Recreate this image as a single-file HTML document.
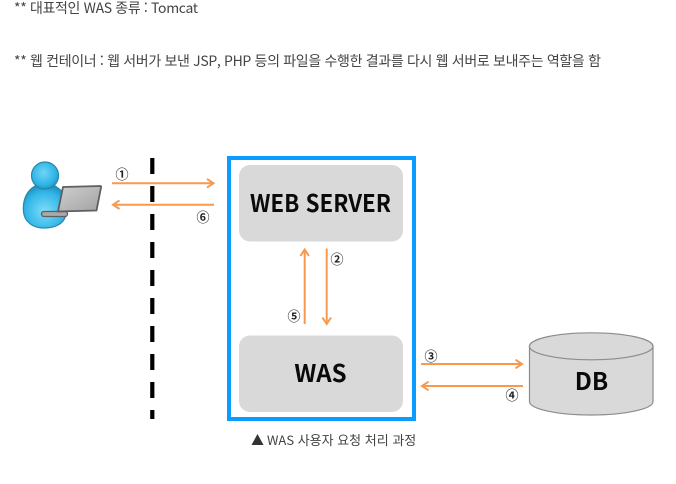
<!DOCTYPE html>
<html lang="ko">
<head>
<meta charset="utf-8">
<style>
html,body{margin:0;padding:0;background:#fff}
body{width:676px;height:484px;overflow:hidden;position:relative}
svg{position:absolute;left:0;top:0}
.soft{filter:blur(0.35px)}
</style>
</head>
<body>
<svg width="676" height="484" viewBox="0 0 676 484" xmlns="http://www.w3.org/2000/svg">
<defs>
<radialGradient id="h" cx="45%" cy="40%" r="65%"><stop offset="0" stop-color="#6fd6f5"/><stop offset="0.7" stop-color="#2db4e6"/><stop offset="1" stop-color="#1a8fbe"/></radialGradient>
<radialGradient id="b" cx="50%" cy="60%" r="65%"><stop offset="0" stop-color="#7fdcf7"/><stop offset="0.7" stop-color="#30b6e8"/><stop offset="1" stop-color="#1b8db9"/></radialGradient>
<linearGradient id="s" x1="0" y1="0" x2="1" y2="1"><stop offset="0" stop-color="#cfcfcf"/><stop offset="1" stop-color="#a2a2a2"/></linearGradient>
</defs>

<g font-family="'Noto Sans CJK KR',sans-serif" font-size="14" fill="#444">
<text x="14" y="13" letter-spacing="-0.35">** 대표적인 WAS 종류 : Tomcat</text>
<text x="14" y="66" letter-spacing="-0.33">** 웹 컨테이너 : 웹 서버가 보낸 JSP, PHP 등의 파일을 수행한 결과를 다시 웹 서버로 보내주는 역할을 함</text>
</g>

<g class="soft">
<!-- user -->
<path d="M35 186C26 191 22.500 201 23.500 212C24.500 222 33 228 44 228C56 228 66 223 66 212L66 197C63 191 58 188 55 186C48 190 41 190 35 186Z" fill="url(#b)" stroke="#2a87a8" stroke-width="1.200"/>
<circle cx="45" cy="175.500" r="13.500" fill="url(#h)" stroke="#2a87a8" stroke-width="1.200"/>
<rect x="41.500" y="211.500" width="26" height="5" rx="2.500" fill="#a9a9a9" stroke="#5f5f5f" stroke-width="1.300"/>
<path d="M63 187L100.500 186C101 186 101.300 186.500 101 187.500L96.500 210.500L58 211.500Z" fill="url(#s)" stroke="#5f5f5f" stroke-width="1.800" stroke-linejoin="round"/>

<!-- dashed divider -->
<line x1="152.300" y1="158" x2="152.300" y2="419" stroke="#000" stroke-width="4.200" stroke-dasharray="16 12"/>

<!-- frame -->
<rect x="229" y="158" width="185" height="261" fill="none" stroke="#0a9cff" stroke-width="4"/>
<rect x="239" y="165" width="164" height="76.500" rx="11" fill="#d9d9d9"/>
<rect x="239" y="335.500" width="164" height="76.500" rx="11" fill="#d9d9d9"/>
<text x="250" y="212" textLength="141" lengthAdjust="spacingAndGlyphs" font-family="'Noto Sans CJK KR',sans-serif" font-weight="700" font-size="24" fill="#0a0a0a">WEB SERVER</text>
<text x="320.500" y="382" text-anchor="middle" font-family="'Noto Sans CJK KR',sans-serif" font-weight="700" font-size="24" fill="#0a0a0a">WAS</text>

<!-- arrows -->
<g fill="none" stroke="#f79a4f" stroke-width="2">
<path d="M112 183.300H213M207 179L213.500 183.300L207 187.600"/>
<path d="M214 204.700H113M119.500 200.400L113 204.700L119.500 209"/>
<path d="M304.700 324V249.500M300.400 256L304.700 249.500L309 256"/>
<path d="M326.700 248.500V324M322.400 317.500L326.700 324L331 317.500"/>
<path d="M421 364H522M515.500 359.700L522 364L515.500 368.300"/>
<path d="M523 386H422M428.500 381.700L422 386L428.500 390.300"/>
</g>

<!-- markers -->
<g font-family="'Noto Sans CJK KR',sans-serif" font-size="13" font-weight="700" fill="#222" text-anchor="middle">
<text x="122" y="179">①</text>
<text x="337" y="264">②</text>
<text x="431" y="361">③</text>
<text x="512" y="400">④</text>
<text x="294" y="321">⑤</text>
<text x="203" y="222">⑥</text>
</g>

<!-- DB -->
<path d="M529.500 346V401.500C529.500 409 557 415 591 415C625 415 653 409 653 401.500V346" fill="#d9d9d9" stroke="#8c8c8c" stroke-width="1.200"/>
<ellipse cx="591.200" cy="346.300" rx="61.800" ry="13.500" fill="#d9d9d9" stroke="#8c8c8c" stroke-width="1.200"/>
<text x="591.500" y="390" text-anchor="middle" font-family="'Noto Sans CJK KR',sans-serif" font-weight="700" font-size="24" fill="#0a0a0a">DB</text>
</g>

<!-- caption -->
<path d="M251.500 445L257.500 434L263.500 445Z" fill="#333"/>
<text x="267" y="445" font-family="'Noto Sans CJK KR',sans-serif" font-size="13" fill="#444">WAS 사용자 요청 처리 과정</text>
</svg>
</body>
</html>
